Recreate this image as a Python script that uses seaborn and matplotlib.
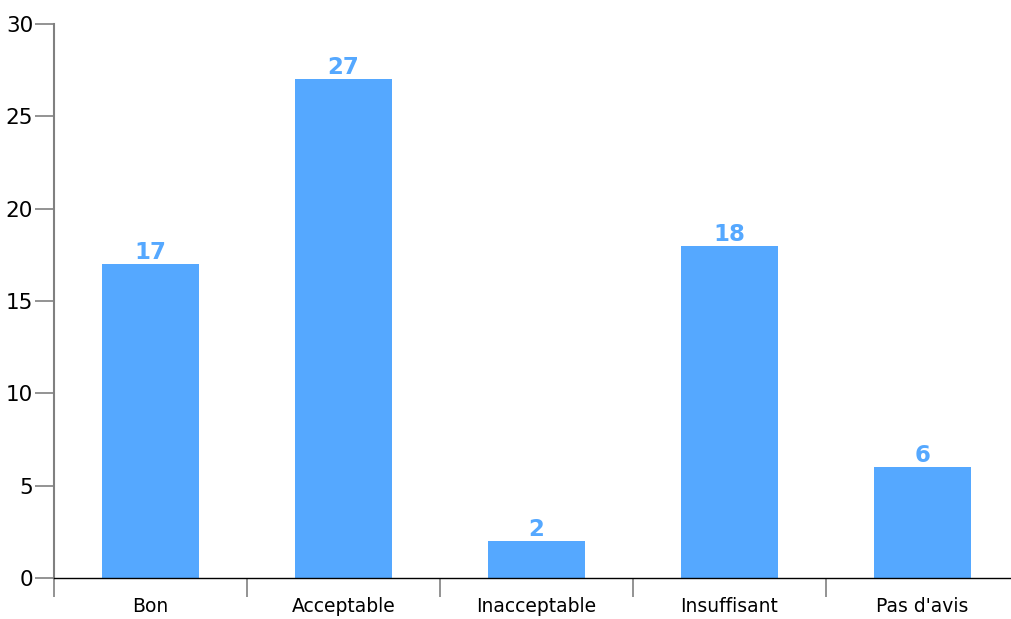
import pandas as pd
import matplotlib.pyplot as plt
import seaborn as sns

# data
categories = ["Bon", "Acceptable", "Inacceptable", "Insuffisant", "Pas d'avis"]
counts = [17, 27, 2, 18, 6]
y_ticks = [0, 5, 10, 15, 20, 25, 30]

df = pd.DataFrame({"categorie": categories, "nombre": counts})

sns.set_style("white")
plt.rcParams['font.family'] = ['DejaVu Sans']
plt.rcParams['text.color'] = 'black'
plt.rcParams['xtick.color'] = 'black'
plt.rcParams['ytick.color'] = 'black'

fig = plt.figure(figsize=(10.11, 6.19), dpi=100)
# axes runs past the right edge of the picture, like the original
ax = fig.add_axes([54 / 1011, 1 - 578 / 619, 965 / 1011, 554 / 619])

bar_color = "#55A8FF"
sns.barplot(data=df, x="categorie", y="nombre", color=bar_color, width=0.5,
            saturation=1, linewidth=0, ax=ax)

ax.set_xlim(-0.5, len(categories) - 0.5)
ax.set_ylim(0, 30)
ax.set_yticks(y_ticks)
ax.tick_params(axis="y", left=True, labelsize=15.5, length=14, width=1.2,
               color="#808080", labelcolor="black", pad=1)
ax.set_xlabel("")
ax.set_ylabel("")

# ticks between categories on the x axis, labels centered
ax.set_xticks([i - 0.5 for i in range(len(categories) + 1)], minor=False)
ax.set_xticklabels([])
ax.set_xticks(range(len(categories)), minor=True)
ax.set_xticklabels(categories, minor=True)
ax.tick_params(axis="x", which="major", bottom=True, length=14, width=1.2,
               color="#808080")
ax.tick_params(axis="x", which="minor", bottom=True, length=0, labelsize=13.5,
               labelcolor="black", pad=14)

for s in ["top", "right"]:
    ax.spines[s].set_visible(False)
ax.spines["left"].set_color("#808080")
ax.spines["left"].set_linewidth(1.5)
ax.spines["bottom"].set_color("#000000")
ax.spines["bottom"].set_linewidth(1.0)

for i, v in enumerate(counts):
    ax.annotate(str(v), (i, v), xytext=(0, 0), textcoords="offset points",
                ha="center", va="bottom", fontsize=16.5, fontweight="heavy",
                color=bar_color)

plt.savefig("out.png", dpi=100)
